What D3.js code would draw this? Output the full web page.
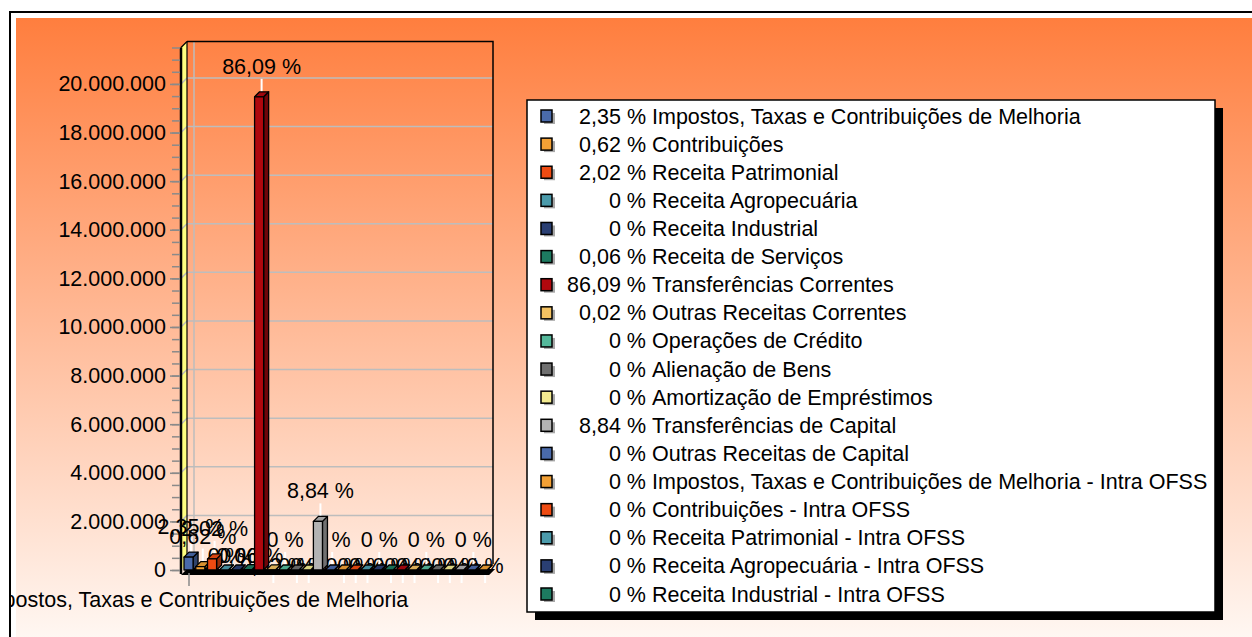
<!DOCTYPE html>
<html><head><meta charset="utf-8">
<script src="https://cdn.jsdelivr.net/npm/d3@7"></script>
<style>
html,body{margin:0;padding:0;background:#fff;}
svg{display:block;font-family:"Liberation Sans",Arial,sans-serif;}
</style></head>
<body>
<svg id="c" width="1252" height="637"></svg>
<script>
// ---------- data ----------
const categoryLabel = "Impostos, Taxas e Contribuições de Melhoria";
const seriesNames = [
  "Impostos, Taxas e Contribuições de Melhoria",
  "Contribuições",
  "Receita Patrimonial",
  "Receita Agropecuária",
  "Receita Industrial",
  "Receita de Serviços",
  "Transferências Correntes",
  "Outras Receitas Correntes",
  "Operações de Crédito",
  "Alienação de Bens",
  "Amortização de Empréstimos",
  "Transferências de Capital",
  "Outras Receitas de Capital",
  "Impostos, Taxas e Contribuições de Melhoria - Intra OFSS",
  "Contribuições - Intra OFSS",
  "Receita Patrimonial - Intra OFSS",
  "Receita Agropecuária - Intra OFSS",
  "Receita Industrial - Intra OFSS",
  "Receita de Serviços - Intra OFSS",
  "Transferências Correntes - Intra OFSS",
  "Outras Receitas Correntes - Intra OFSS",
  "Operações de Crédito - Intra OFSS",
  "Alienação de Bens - Intra OFSS",
  "Amortização de Empréstimos - Intra OFSS",
  "Transferências de Capital - Intra OFSS",
  "Outras Receitas de Capital - Intra OFSS"
];
const seriesValues = [531000, 140000, 457000, 0, 0, 13600, 19470000, 4500, 0, 0, 0, 2000000, 0,
                      0, 0, 0, 0, 0, 0, 0, 0, 0, 0, 0, 0, 0];
const seriesPercents = [2.35, 0.62, 2.02, 0, 0, 0.06, 86.09, 0.02, 0, 0, 0, 8.84, 0,
                        0, 0, 0, 0, 0, 0, 0, 0, 0, 0, 0, 0, 0];
const yMajorTicks = [0, 2e6, 4e6, 6e6, 8e6, 10e6, 12e6, 14e6, 16e6, 18e6, 20e6];
const yMax = 21500000;
const legendShown = 18;

// ---------- style ----------
const palette = ["#4a6aaa","#f2a035","#ee4b12","#4b9bab","#2a3f73","#1d7a60",
                 "#b0080e","#f4c262","#55b99b","#6f6f6f","#f3eb90","#b3b3b3"];
const FONT = 21.5;

const svg = d3.select("#c");
const defs = svg.append("defs");
const lg = defs.append("linearGradient").attr("id","bg").attr("x1",0).attr("y1",0).attr("x2",0).attr("y2",1);
lg.append("stop").attr("offset","0%").attr("stop-color","#ff7e3e");
lg.append("stop").attr("offset","100%").attr("stop-color","#fffbf8");
defs.append("clipPath").attr("id","frameClip").append("rect")
  .attr("x",11).attr("y",13).attr("width",1260).attr("height",640);

// frame
svg.append("rect").attr("x",16).attr("y",18).attr("width",1250).attr("height",640).attr("fill","url(#bg)");
svg.append("path").attr("d","M10,637 V12 H1252").attr("fill","none").attr("stroke","#000").attr("stroke-width",2);

// scales
const y = d3.scaleLinear().domain([0, yMax]).range([570, 47.5]);
const x = d3.scaleBand().domain(d3.range(seriesValues.length)).range([184, 184 + 26*11.75])
  .paddingInner(0.23).paddingOuter(0.1).align(0);
const bw = x.bandwidth();
const DX = 6, DY = 6;      // wall depth
const bDX = 5, bDY = 5;    // bar depth
const y0 = y(0);
const fx0 = 181, bx0 = fx0 + DX, bx1 = 493;

const g = svg.append("g");

// back wall gridlines
g.selectAll("line.grid").data(yMajorTicks.filter(d=>d>0)).join("line")
  .attr("x1", bx0).attr("x2", bx1).attr("y1", d=>y(d)-DY).attr("y2", d=>y(d)-DY)
  .attr("stroke","#bdbdbd").attr("stroke-width",1.5);
g.append("line").attr("x1",194).attr("x2",194).attr("y1",y(yMax)-DY).attr("y2",y0-DY)
  .attr("stroke","#bdbdbd").attr("stroke-width",1.5);
// back wall border (top + right)
g.append("path").attr("d",`M${bx0},${y(yMax)-DY} H${bx1} V${y0-DY}`)
  .attr("fill","none").attr("stroke","#000").attr("stroke-width",1.5);

// side wall
g.append("path").attr("d",`M${fx0},${y(yMax)} L${bx0},${y(yMax)-DY} L${bx0},${y0-DY} L${fx0},${y0} Z`)
  .attr("fill","#ffff80");
g.selectAll("line.sgrid").data(yMajorTicks.filter(d=>d>0)).join("line")
  .attr("x1", fx0).attr("x2", bx0).attr("y1", d=>y(d)).attr("y2", d=>y(d)-DY)
  .attr("stroke","#bdbdbd").attr("stroke-width",1.5);
g.append("line").attr("x1",bx0).attr("x2",bx0).attr("y1",y(yMax)-DY).attr("y2",y0-DY).attr("stroke","#000").attr("stroke-width",1.2);
g.append("line").attr("x1",fx0).attr("x2",bx0).attr("y1",y(yMax)).attr("y2",y(yMax)-DY).attr("stroke","#000").attr("stroke-width",1.2);
g.append("line").attr("x1",fx0).attr("x2",fx0).attr("y1",y(yMax)).attr("y2",y0+4).attr("stroke","#000").attr("stroke-width",2.5);

// y axis
const locale = d3.formatLocale({decimal:",", thousands:".", grouping:[3], currency:["",""]});
const fmt = locale.format(",.0f");
const minor = d3.range(0, yMax + 1, 500000);
const axMinor = g.append("g").attr("transform",`translate(${fx0-1},0)`)
  .call(d3.axisLeft(y).tickValues(minor).tickSize(8).tickFormat(""));
const axMajor = g.append("g").attr("transform",`translate(${fx0-1},0)`)
  .call(d3.axisLeft(y).tickValues(yMajorTicks).tickSize(10).tickPadding(4).tickFormat(fmt));
[axMinor, axMajor].forEach(a=>{
  a.select(".domain").remove();
  a.selectAll(".tick line").attr("stroke","#8a8a8a").attr("stroke-width",1.5);
});
axMajor.selectAll("text").attr("font-size",FONT).attr("fill","#000")
  .attr("font-family","'Liberation Sans',Arial,sans-serif");

// data labels (drawn beneath bars, as in reference)
const pctFmt = p => (p === 0 ? "0" : p.toFixed(2).replace(".", ",")) + " %";
function labelPlace(v, i){
  const backTop = y(v) - bDY;
  if (v >= 100000 || (i >= 8 && i % 4 === 0)) return {base: backTop - 18, l1: backTop - 13, l2: backTop + 1};
  if (i <= 5) return {base: y0 - 7, l1: y0 - 5, l2: y0 - 2};
  return {base: y0 + 3, l1: y0 + 5, l2: y0 + 13};
}
const labels = g.append("g");
seriesValues.forEach((v,i)=>{
  const cx = x(i) + (bw + bDX)/2;
  const p = labelPlace(v,i);
  labels.append("line").attr("x1",cx).attr("x2",cx).attr("y1",p.l1).attr("y2",p.l2)
    .attr("stroke","#fff").attr("stroke-width",2);
  labels.append("text").attr("x",cx).attr("y",p.base).attr("text-anchor","middle")
    .attr("font-size",FONT).text(pctFmt(seriesPercents[i]));
});

// floor
g.append("path").attr("d",`M${fx0},${y0+5} L${x(25)+bw+2},${y0+5} L${x(25)+bw+2+DX},${y0+5-DY} L${bx0},${y0+5-DY} Z`)
  .attr("fill","#000");

// bars
const bars = g.append("g");
seriesValues.forEach((v,i)=>{
  const c = d3.color(palette[i % palette.length]);
  const xl = x(i), xr = xl + bw, yt = y(v);
  const grp = bars.append("g").attr("stroke","#000").attr("stroke-width",1.3).attr("stroke-linejoin","round");
  grp.append("path").attr("d",`M${xr},${yt} L${xr+bDX},${yt-bDY} L${xr+bDX},${y0-bDY} L${xr},${y0} Z`)
    .attr("fill", c.darker(1.3));
  grp.append("path").attr("d",`M${xl},${yt} L${xl+bDX},${yt-bDY} L${xr+bDX},${yt-bDY} L${xr},${yt} Z`)
    .attr("fill", c.darker(0.3));
  if (v > 0) grp.append("rect").attr("x",xl).attr("y",yt).attr("width",bw).attr("height",y0-yt).attr("fill",c);
});

// category axis tick + label
g.append("line").attr("x1",189).attr("x2",189).attr("y1",y0+3).attr("y2",y0+16).attr("stroke","#8a8a8a").attr("stroke-width",1.5);
svg.append("g").attr("clip-path","url(#frameClip)").append("text")
  .attr("x",194).attr("y",607).attr("text-anchor","middle").attr("font-size",FONT).text(categoryLabel);

// legend
const L = {x:527, y:100, w:688, h:512};
svg.append("rect").attr("x",L.x+8).attr("y",L.y+8).attr("width",L.w).attr("height",L.h).attr("fill","#000");
svg.append("rect").attr("x",L.x).attr("y",L.y).attr("width",L.w).attr("height",L.h)
  .attr("fill","#fff").attr("stroke","#000").attr("stroke-width",1.5);
const leg = svg.append("g");
const rowY = d3.scaleLinear().domain([0, legendShown-1]).range([116, 594]);
seriesNames.slice(0, legendShown).forEach((n,i)=>{
  const cy = rowY(i);
  leg.append("rect").attr("x",544).attr("y",cy-3).attr("width",11).attr("height",11).attr("fill","#a8a8a8");
  leg.append("rect").attr("x",541).attr("y",cy-6).attr("width",11).attr("height",12)
    .attr("fill",palette[i % palette.length]).attr("stroke","#000").attr("stroke-width",1.5);
  leg.append("text").attr("x",646).attr("y",cy+7.5).attr("text-anchor","end").attr("font-size",FONT)
    .text(pctFmt(seriesPercents[i]));
  leg.append("text").attr("x",652).attr("y",cy+7.5).attr("font-size",FONT).text(n);
});
</script>
</body></html>
